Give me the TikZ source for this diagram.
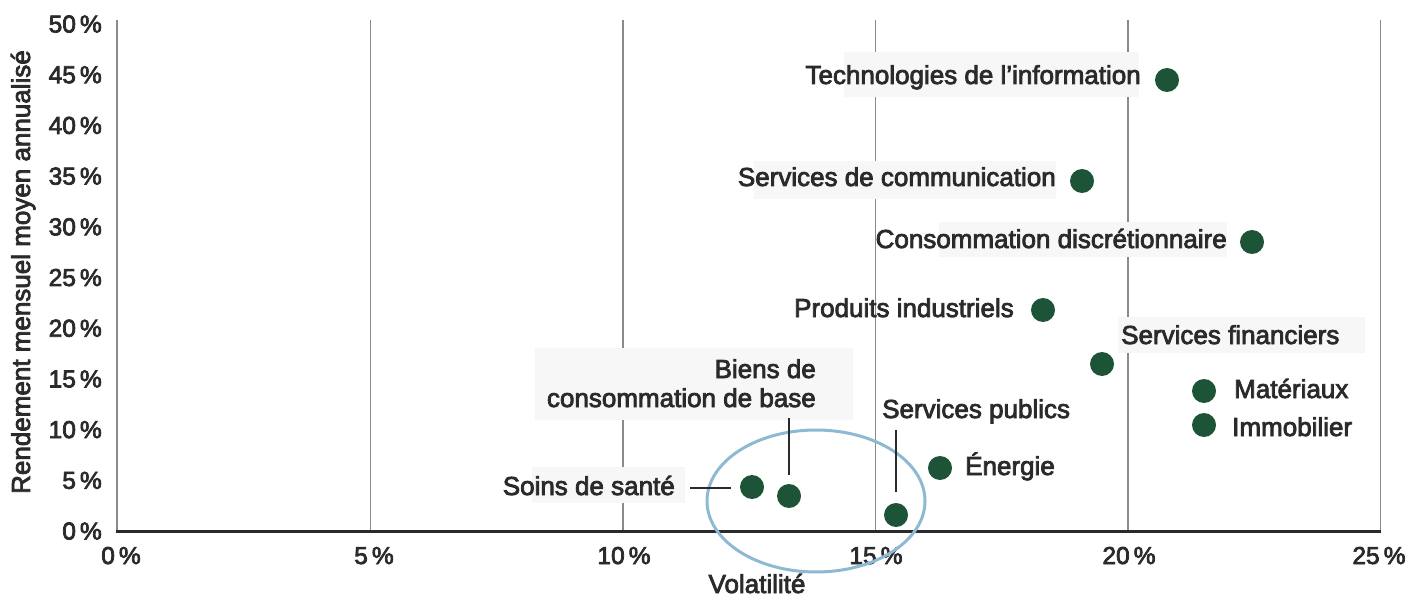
\documentclass[tikz,border=0pt]{standalone}
\usepackage{fontspec}
\setmainfont{Liberation Sans}[FakeBold=3]
\definecolor{txt}{HTML}{2A2A2A}
\definecolor{dotc}{HTML}{1D5438}
\definecolor{gridc}{HTML}{8A8A8A}
\definecolor{boxc}{HTML}{F7F7F7}
\definecolor{ellc}{HTML}{8DB9D2}
\tikzset{
  grid line/.style={draw=gridc, line width=1.2pt},
  bgbox/.style={fill=boxc, draw=none},
  dotnode/.style={circle, fill=dotc, minimum size=24pt, inner sep=0pt},
  lbl/.style={text=txt, inner sep=0pt, font=\fontsize{26}{29}\selectfont},
  tick/.style={text=txt, inner sep=0pt, font=\fontsize{24.5}{28}\selectfont},
  leader/.style={draw=txt, line width=2pt},
}
\begin{document}
\begin{tikzpicture}[x=1pt,y=-1pt]
\useasboundingbox (0,0) rectangle (1409,596);
% vertical grid lines
\foreach \gx in {370.5,623,875.5,1128,1380.5}{
  \draw[grid line] (\gx,20) -- (\gx,531);
}
\draw[grid line] (117,20) -- (117,531);
% label backgrounds
\fill[bgbox] (844,52) rectangle (1139,97);
\fill[bgbox] (754,161) rectangle (1056,199);
\fill[bgbox] (939,222) rectangle (1227,257);
\fill[bgbox] (1118,317) rectangle (1365,353);
\fill[bgbox] (535,348) rectangle (853,420);
\fill[bgbox] (532,467) rectangle (685,503);
% x axis
\draw[draw=txt, line width=3pt] (116,531) -- (1381,531);
% y ticks
\foreach \v/\ty in {0/531,5/480.3,10/429.6,15/378.9,20/328.2,25/277.5,30/226.8,35/176.1,40/125.4,45/74.7,50/24}{
  \node[tick, anchor=base east] at (102,\ty+8.5) {\v\,\%};
}
% x ticks
\foreach \v/\tx in {0/121,5/374,10/624,15/876,20/1129,25/1379}{
  \node[tick, anchor=base] at (\tx,564) {\v\,\%};
}
% axis titles
\node[lbl, anchor=base] (xt) at (757,593) {Volatilité};
\node[lbl, anchor=base, rotate=90] (yt) at (30,272) {Rendement mensuel moyen annualisé};
% ellipse
\draw[draw=ellc, line width=3pt] (816,501) ellipse [x radius=109, y radius=71];
% dots
\node[dotnode] (tech) at (1167,80) {};
\node[dotnode] (comm) at (1082,181) {};
\node[dotnode] (cdisc) at (1252,242) {};
\node[dotnode] (ind) at (1043,310) {};
\node[dotnode] (fin) at (1102,364) {};
\node[dotnode] (mat) at (1204,391) {};
\node[dotnode] (immo) at (1204,425) {};
\node[dotnode] (ener) at (940,468) {};
\node[dotnode] (pub) at (896,515) {};
\node[dotnode] (biens) at (789,496) {};
\node[dotnode] (soins) at (752,487) {};
% labels
\node[lbl, anchor=base east] (ltech) at (1141,84) {Technologies de l\char"2019 information};
\node[lbl, anchor=base east] (lcomm) at (1056,186) {Services de communication};
\node[lbl, anchor=base east] (lcdisc) at (1227,248) {Consommation discrétionnaire};
\node[lbl, anchor=base east] (lind) at (1014,317) {Produits industriels};
\node[lbl, anchor=base west] (lfin) at (1121,344) {Services financiers};
\node[lbl, anchor=base west] (lmat) at (1234,398) {Matériaux};
\node[lbl, anchor=base west] (limmo) at (1232,436) {Immobilier};
\node[lbl, anchor=base west] (lener) at (965,475) {Énergie};
\node[lbl, anchor=base west] (lpub) at (882,418) {Services publics};
\node[lbl, anchor=base east, align=right] (lbiens) at (816,407) {Biens de\hspace{6pt}\\consommation de base};
\node[lbl, anchor=base east] (lsoins) at (675,495) {Soins de santé};
% leaders
\coordinate (cs1) at (690,488);
\coordinate (cs2) at (731,488);
\draw[leader] (cs1) -- (cs2);
\coordinate (cb1) at (789,418);
\coordinate (cb2) at (789,475);
\draw[leader] (cb1) -- (cb2);
\coordinate (cp1) at (896,430);
\coordinate (cp2) at (896,492);
\draw[leader] (cp1) -- (cp2);
\end{tikzpicture}
\end{document}
